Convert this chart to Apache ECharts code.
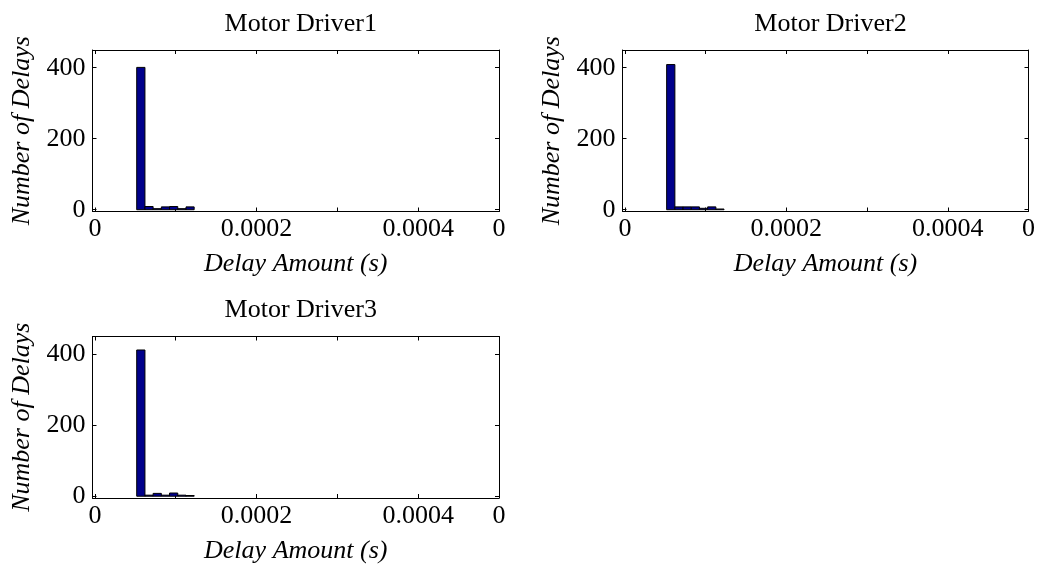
<!DOCTYPE html>
<html>
<head>
<meta charset="utf-8">
<script src="https://cdn.jsdelivr.net/npm/echarts@6/dist/echarts.min.js"></script>
<style>
  html, body { margin: 0; padding: 0; background: #fff; }
  #chart { width: 1039px; height: 568px; }
</style>
</head>
<body>
<div id="chart"></div>
<script>
// histogram bin edges (s), shared by all three drivers
const binEdges = [0.0000517, 0.0000619, 0.0000720, 0.0000822, 0.0000923, 0.0001025, 0.0001127, 0.0001228]

// counts per bin
const driver1Counts = [401, 9, 3, 8, 9, 3, 8]
const driver2Counts = [409, 8, 8, 8, 4, 8, 2]
const driver3Counts = [412, 3, 8, 3, 9, 3, 2]

const titles = ['Motor Driver1', 'Motor Driver2', 'Motor Driver3']

// axis ticks and labels
const xTickValues = [0, 0.0001, 0.0002, 0.0003, 0.0004, 0.0005]
const xLabelValues = [0, 0.0002, 0.0004, 0.0005]
const xLabelTexts = ['0', '0.0002', '0.0004', '0']
const yTickValues = [0, 200, 400]
const yLabelTexts = ['0', '200', '400']

const xMin = -0.000003
const xMax = 0.0005
const yMin = -5
const yMax = 450

const font = 'Liberation Serif'

// panel boxes
const panels = [
  { left: 92.5, top: 50, width: 406.5, height: 161.5 },
  { left: 622.5, top: 50, width: 406, height: 161.5 },
  { left: 92.5, top: 336.5, width: 406.5, height: 161.5 }
]
const allCounts = [driver1Counts, driver2Counts, driver3Counts]

function xLabel(v) {
  const i = xLabelValues.findIndex(x => Math.abs(x - v) < 1e-9)
  return i >= 0 ? xLabelTexts[i] : ''
}
function yLabel(v) {
  const i = yTickValues.findIndex(y => Math.abs(y - v) < 1e-6)
  return i >= 0 ? yLabelTexts[i] : ''
}

const chart = echarts.init(document.getElementById('chart'))

const grid = []
const xAxis = []
const yAxis = []
const series = []
const title = []

panels.forEach((p, k) => {
  grid.push({ left: p.left, top: p.top, width: p.width, height: p.height, containLabel: false })

  title.push({
    text: titles[k],
    left: p.left + p.width / 2,
    top: p.top - 44,
    textAlign: 'center',
    textStyle: { fontFamily: font, fontSize: 26, fontWeight: 'normal', color: '#000' }
  })

  const lineStyle = { color: '#000', width: 1 }
  // bottom x axis with labels
  xAxis.push({
    type: 'value', gridIndex: k, position: 'bottom', min: xMin, max: xMax,
    name: 'Delay Amount (s)', nameLocation: 'middle', nameGap: 40,
    nameTextStyle: { fontFamily: font, fontSize: 26, fontStyle: 'italic', color: '#000' },
    axisLine: { show: true, onZero: false, lineStyle },
    axisTick: { show: true, inside: true, length: 4, lineStyle, customValues: xTickValues },
    axisLabel: {
      show: true, margin: 5, customValues: xLabelValues, formatter: xLabel,
      fontFamily: font, fontSize: 26, color: '#000'
    },
    splitLine: { show: false }
  })
  // top mirror axis
  xAxis.push({
    type: 'value', gridIndex: k, position: 'top', min: xMin, max: xMax,
    axisLine: { show: true, onZero: false, lineStyle },
    axisTick: { show: true, inside: true, length: 4, lineStyle, customValues: xTickValues },
    axisLabel: { show: false },
    splitLine: { show: false }
  })
  // left y axis with labels
  yAxis.push({
    type: 'value', gridIndex: k, position: 'left', min: yMin, max: yMax,
    name: 'Number of Delays', nameLocation: 'middle', nameGap: 57,
    nameTextStyle: { fontFamily: font, fontSize: 26, fontStyle: 'italic', color: '#000' },
    axisLine: { show: true, onZero: false, lineStyle },
    axisTick: { show: true, inside: true, length: 4, lineStyle, customValues: yTickValues },
    axisLabel: {
      show: true, margin: 7, customValues: yTickValues, formatter: yLabel,
      fontFamily: font, fontSize: 26, color: '#000'
    },
    splitLine: { show: false }
  })
  // right mirror axis
  yAxis.push({
    type: 'value', gridIndex: k, position: 'right', min: yMin, max: yMax,
    axisLine: { show: true, onZero: false, lineStyle },
    axisTick: { show: true, inside: true, length: 4, lineStyle, customValues: yTickValues },
    axisLabel: { show: false },
    splitLine: { show: false }
  })

  const data = allCounts[k].map((c, i) => [binEdges[i], binEdges[i + 1], c])
  series.push({
    type: 'custom',
    xAxisIndex: k * 2,
    yAxisIndex: k * 2,
    data: data,
    renderItem: (params, api) => {
      const p0 = api.coord([api.value(0), 0])
      const p1 = api.coord([api.value(1), api.value(2)])
      return {
        type: 'rect',
        shape: { x: p0[0], y: p1[1], width: p1[0] - p0[0], height: p0[1] - p1[1] },
        style: { fill: '#00008b', stroke: '#000', lineWidth: 1 }
      }
    },
    silent: true,
    animation: false
  })
})

chart.setOption({
  animation: false,
  backgroundColor: '#fff',
  title, grid, xAxis, yAxis, series
})
</script>
</body>
</html>
